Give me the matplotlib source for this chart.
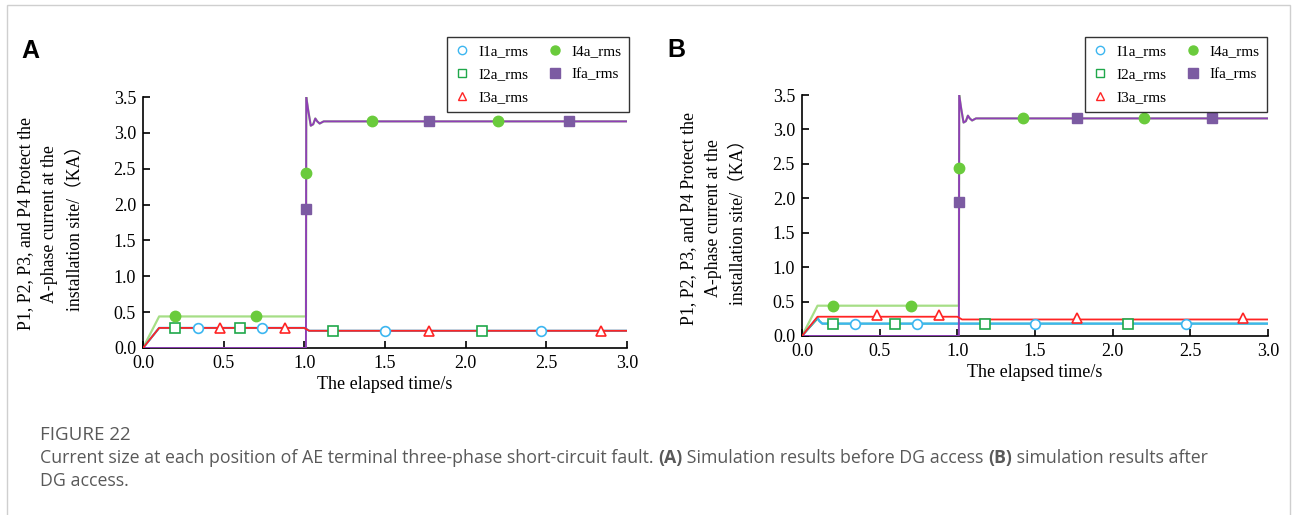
import matplotlib
matplotlib.use("Agg")
import matplotlib.pyplot as plt
from matplotlib.lines import Line2D
from matplotlib.patches import Rectangle

W, H = 1293, 515
plt.rcParams['font.family'] = ['Liberation Serif', 'Noto Sans CJK SC', 'DejaVu Sans']

names = ['I1a_rms', 'I2a_rms', 'I3a_rms', 'I4a_rms', 'Ifa_rms']

# post-fault transient shared by I4a and Ifa (time s, current kA)
fault_t = [1.01, 1.012, 1.025, 1.04, 1.055, 1.068, 1.08, 1.095, 1.12, 1.15, 3.0]
fault_v = [0.45, 3.50, 3.30, 3.10, 3.12, 3.20, 3.16, 3.13, 3.16, 3.16, 3.16]

# ---- panel A: before DG access ----
a_i1_t = [0.0, 0.1, 1.0, 1.03, 3.0]
a_i1_v = [0.0, 0.28, 0.28, 0.24, 0.24]
a_i2_t = [0.0, 0.1, 1.0, 1.03, 3.0]
a_i2_v = [0.0, 0.28, 0.28, 0.24, 0.24]
a_i3_t = [0.0, 0.1, 1.0, 1.03, 3.0]
a_i3_v = [0.0, 0.28, 0.28, 0.24, 0.24]
a_i4_t = [0.0, 0.1] + fault_t
a_i4_v = [0.0, 0.44] + [0.44] + fault_v[1:]
a_ifa_t = [0.0] + fault_t
a_ifa_v = [0.0, 0.0] + fault_v[1:]

# markers, panel A
a_m1_t = [0.34, 0.74, 1.50, 2.47]
a_m1_v = [0.28, 0.28, 0.24, 0.24]
a_m2_t = [0.20, 0.60, 1.18, 2.10]
a_m2_v = [0.28, 0.28, 0.24, 0.24]
a_m3_t = [0.48, 0.88, 1.77, 2.84]
a_m3_v = [0.28, 0.28, 0.24, 0.24]
a_m4_t = [0.20, 0.70, 1.01, 1.42, 2.20]
a_m4_v = [0.44, 0.44, 2.44, 3.16, 3.16]
a_mf_t = [1.01, 1.77, 2.64]
a_mf_v = [1.94, 3.16, 3.16]

# ---- panel B: after DG access ----
b_i1_t = [0.0, 0.1, 0.11, 0.13, 3.0]
b_i1_v = [0.0, 0.27, 0.22, 0.18, 0.18]
b_i2_t = [0.0, 0.1, 0.13, 3.0]
b_i2_v = [0.0, 0.25, 0.18, 0.18]
b_i3_t = [0.0, 0.1, 1.0, 1.03, 3.0]
b_i3_v = [0.0, 0.28, 0.28, 0.24, 0.24]
b_i4_t = [0.0, 0.1] + fault_t
b_i4_v = [0.0, 0.44] + [0.44] + fault_v[1:]
b_ifa_t = [0.0] + fault_t
b_ifa_v = [0.0, 0.0] + fault_v[1:]

b_m1_t = [0.34, 0.74, 1.50, 2.47]
b_m1_v = [0.18, 0.18, 0.18, 0.18]
b_m2_t = [0.20, 0.60, 1.18, 2.10]
b_m2_v = [0.18, 0.18, 0.18, 0.18]
b_m3_t = [0.48, 0.88, 1.77, 2.84]
b_m3_v = [0.30, 0.30, 0.26, 0.26]
b_m4_t = [0.20, 0.70, 1.01, 1.42, 2.20]
b_m4_v = [0.44, 0.44, 2.44, 3.16, 3.16]
b_mf_t = [1.01, 1.77, 2.64]
b_mf_v = [1.94, 3.16, 3.16]

c_blue = '#3cb6f0'
c_green = '#1fa84a'
c_red = '#ff2424'
c_lgreen = '#a6de86'
c_dot = '#6acb3c'
c_purple = '#8e3fb6'
c_sq = '#7c5ba2'

ylabel = 'P1, P2, P3, and P4 Protect the\nA-phase current at the\ninstallation site/（KA）'

fig = plt.figure(figsize=(W / 100, H / 100), dpi=100)
fig.patches.append(Rectangle((7 / W, -0.01), (1290 - 7) / W, 1 - 5 / H + 0.01,
                             transform=fig.transFigure, fill=False,
                             edgecolor='#cfcfcf', lw=1.0))


def panel(rect, lines, marks, letter, letter_xy, ylab_xy, leg_anchor):
    ax = fig.add_axes(rect)
    (i1t, i1v), (i2t, i2v), (i3t, i3v), (i4t, i4v), (ift, ifv) = lines
    ax.plot(i4t, i4v, color=c_lgreen, lw=1.6, zorder=2)
    ax.plot(ift, ifv, color=c_purple, lw=1.4, zorder=3)
    ax.plot(i1t, i1v, color=c_blue, lw=1.6, zorder=2)
    ax.plot(i2t, i2v, color=c_green, lw=1.2, zorder=1)
    ax.plot(i3t, i3v, color=c_red, lw=1.3, zorder=3)

    (m1t, m1v), (m2t, m2v), (m3t, m3v), (m4t, m4v), (mft, mfv) = marks
    ax.plot(m1t, m1v, 'o', ms=7, mfc='white', mec=c_blue, mew=1.2, zorder=5)
    ax.plot(m2t, m2v, 's', ms=7, mfc='white', mec=c_green, mew=1.2, zorder=5)
    ax.plot(m3t, m3v, '^', ms=7, mfc='white', mec=c_red, mew=1.2, zorder=5)
    ax.plot(m4t, m4v, 'o', ms=7.5, color=c_dot, zorder=5)
    ax.plot(mft, mfv, 's', ms=7.5, color=c_sq, zorder=5)

    ax.set_xlim(0, 3.0)
    ax.set_ylim(0, 3.5)
    ax.set_xticks([0, 0.5, 1.0, 1.5, 2.0, 2.5, 3.0])
    ax.set_yticks([0, 0.5, 1.0, 1.5, 2.0, 2.5, 3.0, 3.5])
    ax.xaxis.set_major_formatter(plt.FormatStrFormatter('%.1f'))
    ax.yaxis.set_major_formatter(plt.FormatStrFormatter('%.1f'))
    ax.tick_params(direction='in', length=5, width=1.2, labelsize=13, pad=5)
    for s in ['top', 'right']:
        ax.spines[s].set_visible(False)
    for s in ['left', 'bottom']:
        ax.spines[s].set_linewidth(1.2)
    ax.set_xlabel('The elapsed time/s', fontsize=13, labelpad=3)

    fig.text(ylab_xy[0] / W, 1 - ylab_xy[1] / H, ylabel, rotation=90,
             ha='center', va='center', multialignment='center',
             fontsize=12.8, linespacing=1.6)
    fig.text(letter_xy[0] / W, 1 - letter_xy[1] / H, letter, fontsize=18,
             fontweight='bold', family='Liberation Sans', ha='center', va='center')

    handles = [
        Line2D([], [], ls='none', marker='o', ms=6, mfc='white', mec=c_blue, mew=1),
        Line2D([], [], ls='none', marker='s', ms=6, mfc='white', mec=c_green, mew=1),
        Line2D([], [], ls='none', marker='^', ms=6, mfc='white', mec=c_red, mew=1),
        Line2D([], [], ls='none', marker='o', ms=6.5, color=c_dot),
        Line2D([], [], ls='none', marker='s', ms=6.5, color=c_sq),
    ]
    leg = fig.legend(handles, names, ncol=2, loc='upper right',
                     bbox_to_anchor=(leg_anchor[0] / W, 1 - leg_anchor[1] / H),
                     fontsize=11, frameon=True, fancybox=False,
                     edgecolor='black', handlelength=1.0, handletextpad=0.6,
                     columnspacing=1.2, labelspacing=0.6, borderpad=0.5,
                     borderaxespad=0)
    leg.get_frame().set_linewidth(1.0)
    return ax


panel([143 / W, 1 - 348 / H, 484 / W, 251 / H],
      [(a_i1_t, a_i1_v), (a_i2_t, a_i2_v), (a_i3_t, a_i3_v), (a_i4_t, a_i4_v), (a_ifa_t, a_ifa_v)],
      [(a_m1_t, a_m1_v), (a_m2_t, a_m2_v), (a_m3_t, a_m3_v), (a_m4_t, a_m4_v), (a_mf_t, a_mf_v)],
      'A', (30, 51), (50, 224), (629, 37))

panel([802 / W, 1 - 336 / H, 466 / W, 241 / H],
      [(b_i1_t, b_i1_v), (b_i2_t, b_i2_v), (b_i3_t, b_i3_v), (b_i4_t, b_i4_v), (b_ifa_t, b_ifa_v)],
      [(b_m1_t, b_m1_v), (b_m2_t, b_m2_v), (b_m3_t, b_m3_v), (b_m4_t, b_m4_v), (b_mf_t, b_mf_v)],
      'B', (676, 50), (713, 218), (1267, 37))

# caption
cap_color = '#595959'
fig.text(40 / W, 1 - 435 / H, 'FIGURE 22', fontsize=13.5, color=cap_color,
         family='Open Sans', va='center')

renderer = fig.canvas.get_renderer()


def rich_line(x, y, parts):
    for s, w in parts:
        t = fig.text(x, y, s, fontsize=12.8, color=cap_color, family='Open Sans',
                     fontweight=w, va='center')
        bb = t.get_window_extent(renderer)
        x = bb.x1 / W


rich_line(40 / W, 1 - 458 / H, [
    ('Current size at each position of AE terminal three-phase short-circuit fault.\u00a0', 'normal'),
    ('(A)', 'bold'),
    ('\u00a0Simulation results before DG access\u00a0', 'normal'),
    ('(B)', 'bold'),
    ('\u00a0simulation results after', 'normal'),
])
rich_line(40 / W, 1 - 481 / H, [('DG access.', 'normal')])

fig.savefig('out.png', dpi=100)
